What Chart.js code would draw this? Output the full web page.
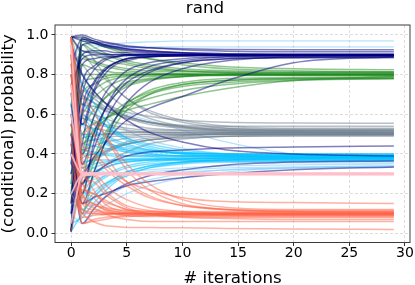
<!DOCTYPE html>
<html>
<head>
<meta charset="utf-8">
<script src="https://cdn.jsdelivr.net/npm/chart.js@4.4.1/dist/chart.umd.min.js"></script>
<style>
  html, body { margin: 0; padding: 0; background: #fff; }
  #wrap { width: 415px; height: 285px; }
</style>
</head>
<body>
<div id="wrap"><canvas id="chart"></canvas></div>
<script>
var iters = [0, 1, 2, 3, 4, 5, 7, 10, 14, 20, 29];

var xTicks = [0, 5, 10, 15, 20, 25, 30];
var yTicks = [0.0, 0.2, 0.4, 0.6, 0.8, 1.0];

// runs that settle near 0.9
var navyRuns = [
    [0.01, 0.45, 0.70, 0.80, 0.85, 0.87, 0.89, 0.895, 0.90, 0.90, 0.90],
    [0.35, 0.98, 0.97, 0.95, 0.94, 0.93, 0.92, 0.91, 0.905, 0.90, 0.90],
    [0.60, 0.20, 0.45, 0.62, 0.72, 0.78, 0.84, 0.87, 0.89, 0.895, 0.90],
    [0.10, 0.85, 0.88, 0.89, 0.89, 0.90, 0.90, 0.90, 0.90, 0.90, 0.90],
    [0.99, 0.99, 0.97, 0.96, 0.95, 0.94, 0.935, 0.93, 0.927, 0.925, 0.925],
    [0.50, 0.30, 0.38, 0.45, 0.52, 0.57, 0.63, 0.69, 0.77, 0.86, 0.89],
    [0.30, 0.70, 0.82, 0.87, 0.89, 0.90, 0.90, 0.90, 0.90, 0.90, 0.90],
    [0.80, 0.55, 0.72, 0.82, 0.86, 0.88, 0.89, 0.90, 0.90, 0.90, 0.90],
    [0.01, 0.95, 0.96, 0.95, 0.94, 0.93, 0.92, 0.91, 0.90, 0.90, 0.90],
    [0.45, 0.15, 0.30, 0.45, 0.58, 0.66, 0.76, 0.83, 0.87, 0.89, 0.895],
    [0.70, 0.90, 0.92, 0.92, 0.91, 0.91, 0.905, 0.90, 0.90, 0.90, 0.90],
    [0.20, 0.60, 0.75, 0.82, 0.86, 0.88, 0.89, 0.895, 0.90, 0.90, 0.90],
    [0.65, 0.35, 0.50, 0.62, 0.70, 0.76, 0.82, 0.86, 0.88, 0.885, 0.89],
    [0.99, 0.97, 0.96, 0.94, 0.93, 0.92, 0.91, 0.905, 0.90, 0.90, 0.90],
    [0.99, 0.92, 0.91, 0.905, 0.90, 0.90, 0.895, 0.895, 0.895, 0.895, 0.895],
    [0.15, 0.75, 0.84, 0.88, 0.89, 0.895, 0.90, 0.90, 0.90, 0.90, 0.90],
    [0.55, 0.40, 0.58, 0.70, 0.77, 0.82, 0.86, 0.88, 0.89, 0.89, 0.89],
    [0.85, 0.98, 0.96, 0.945, 0.935, 0.925, 0.915, 0.91, 0.905, 0.905, 0.905],
    [0.01, 0.62, 0.76, 0.83, 0.86, 0.88, 0.89, 0.895, 0.897, 0.897, 0.897],
    [0.35, 0.25, 0.42, 0.56, 0.66, 0.73, 0.81, 0.86, 0.88, 0.885, 0.885],
    [0.75, 0.88, 0.90, 0.90, 0.90, 0.90, 0.90, 0.90, 0.90, 0.90, 0.90],
    [0.99, 1.00, 0.98, 0.965, 0.955, 0.945, 0.935, 0.925, 0.918, 0.915, 0.915],
    [0.10, 0.25, 0.30, 0.34, 0.37, 0.39, 0.41, 0.42, 0.43, 0.435, 0.44],
    [0.50, 0.15, 0.18, 0.20, 0.22, 0.24, 0.26, 0.28, 0.30, 0.32, 0.335],
    [0.95, 0.80, 0.72, 0.66, 0.61, 0.57, 0.51, 0.46, 0.42, 0.40, 0.39],
    [0.40, 0.05, 0.12, 0.18, 0.22, 0.25, 0.29, 0.32, 0.345, 0.36, 0.365]
];

// runs that settle near 0.8
var greenRuns = [
    [0.90, 0.30, 0.50, 0.62, 0.70, 0.74, 0.77, 0.79, 0.80, 0.80, 0.80],
    [0.20, 0.95, 0.92, 0.90, 0.88, 0.86, 0.84, 0.82, 0.81, 0.80, 0.80],
    [0.55, 0.10, 0.30, 0.45, 0.55, 0.62, 0.70, 0.75, 0.77, 0.78, 0.785],
    [0.40, 0.75, 0.78, 0.79, 0.80, 0.80, 0.80, 0.80, 0.80, 0.80, 0.80],
    [0.99, 0.98, 0.96, 0.94, 0.92, 0.90, 0.88, 0.86, 0.84, 0.83, 0.825],
    [0.30, 0.50, 0.55, 0.58, 0.60, 0.62, 0.65, 0.69, 0.73, 0.77, 0.79],
    [0.70, 0.85, 0.83, 0.82, 0.81, 0.81, 0.80, 0.80, 0.80, 0.80, 0.80],
    [0.01, 0.40, 0.58, 0.68, 0.73, 0.76, 0.78, 0.79, 0.80, 0.80, 0.80],
    [0.65, 0.92, 0.90, 0.88, 0.86, 0.85, 0.83, 0.82, 0.815, 0.81, 0.81],
    [0.45, 0.25, 0.38, 0.50, 0.58, 0.64, 0.70, 0.74, 0.76, 0.775, 0.78],
    [0.85, 0.65, 0.72, 0.76, 0.78, 0.79, 0.80, 0.80, 0.80, 0.80, 0.80],
    [0.15, 0.99, 0.97, 0.95, 0.93, 0.91, 0.88, 0.85, 0.83, 0.82, 0.815],
    [0.60, 0.45, 0.52, 0.57, 0.61, 0.64, 0.68, 0.72, 0.75, 0.77, 0.78],
    [0.25, 0.88, 0.86, 0.84, 0.83, 0.82, 0.81, 0.805, 0.80, 0.80, 0.80],
    [0.50, 0.60, 0.68, 0.73, 0.76, 0.78, 0.79, 0.795, 0.80, 0.80, 0.80],
    [0.99, 0.90, 0.87, 0.85, 0.84, 0.83, 0.82, 0.815, 0.81, 0.81, 0.81],
    [0.10, 0.20, 0.35, 0.48, 0.58, 0.65, 0.72, 0.76, 0.78, 0.785, 0.79],
    [0.35, 0.70, 0.75, 0.78, 0.79, 0.795, 0.80, 0.80, 0.80, 0.80, 0.80],
    [0.75, 0.40, 0.50, 0.57, 0.62, 0.66, 0.71, 0.75, 0.77, 0.78, 0.78],
    [0.01, 0.97, 0.94, 0.91, 0.89, 0.87, 0.85, 0.83, 0.82, 0.815, 0.815],
    [0.60, 0.55, 0.62, 0.68, 0.72, 0.75, 0.775, 0.79, 0.795, 0.795, 0.795],
    [0.90, 0.80, 0.80, 0.80, 0.80, 0.80, 0.80, 0.80, 0.80, 0.80, 0.80]
];

// runs that settle near 0.5
var grayRuns = [
    [0.80, 0.70, 0.66, 0.62, 0.60, 0.58, 0.55, 0.53, 0.515, 0.51, 0.505],
    [0.20, 0.30, 0.36, 0.40, 0.43, 0.45, 0.47, 0.49, 0.50, 0.50, 0.50],
    [0.95, 0.75, 0.70, 0.66, 0.63, 0.61, 0.59, 0.57, 0.56, 0.556, 0.555],
    [0.40, 0.55, 0.53, 0.52, 0.51, 0.51, 0.51, 0.51, 0.51, 0.51, 0.51],
    [0.05, 0.62, 0.60, 0.58, 0.56, 0.55, 0.53, 0.52, 0.51, 0.505, 0.50],
    [0.60, 0.42, 0.44, 0.46, 0.47, 0.48, 0.49, 0.495, 0.50, 0.50, 0.50],
    [0.90, 0.85, 0.78, 0.72, 0.67, 0.63, 0.58, 0.54, 0.52, 0.515, 0.515],
    [0.30, 0.38, 0.40, 0.42, 0.44, 0.45, 0.47, 0.48, 0.49, 0.495, 0.495],
    [0.70, 0.60, 0.57, 0.55, 0.54, 0.53, 0.52, 0.52, 0.52, 0.52, 0.52],
    [0.50, 0.68, 0.66, 0.63, 0.61, 0.59, 0.56, 0.54, 0.53, 0.525, 0.525],
    [0.15, 0.45, 0.47, 0.48, 0.49, 0.49, 0.50, 0.50, 0.50, 0.50, 0.50],
    [0.85, 0.90, 0.84, 0.78, 0.73, 0.68, 0.62, 0.57, 0.54, 0.53, 0.53],
    [0.99, 0.65, 0.64, 0.62, 0.60, 0.58, 0.56, 0.545, 0.54, 0.54, 0.54],
    [0.35, 0.33, 0.37, 0.41, 0.44, 0.46, 0.48, 0.495, 0.505, 0.51, 0.51],
    [0.55, 0.50, 0.50, 0.50, 0.50, 0.50, 0.50, 0.50, 0.50, 0.50, 0.50],
    [0.99, 0.80, 0.72, 0.66, 0.62, 0.59, 0.56, 0.535, 0.525, 0.52, 0.52],
    [0.10, 0.20, 0.28, 0.34, 0.38, 0.41, 0.45, 0.475, 0.49, 0.495, 0.495],
    [0.65, 0.72, 0.68, 0.64, 0.61, 0.59, 0.56, 0.535, 0.52, 0.515, 0.51],
    [0.25, 0.58, 0.56, 0.54, 0.53, 0.52, 0.51, 0.505, 0.505, 0.505, 0.505],
    [0.80, 0.35, 0.38, 0.41, 0.43, 0.45, 0.47, 0.485, 0.49, 0.49, 0.49],
    [0.45, 0.95, 0.88, 0.80, 0.73, 0.68, 0.61, 0.56, 0.53, 0.52, 0.52],
    [0.01, 0.48, 0.49, 0.50, 0.505, 0.51, 0.51, 0.51, 0.51, 0.51, 0.51]
];

// runs that settle near 0.38
var skyRuns = [
    [0.70, 0.30, 0.33, 0.35, 0.36, 0.37, 0.375, 0.38, 0.38, 0.38, 0.38],
    [0.10, 0.55, 0.52, 0.49, 0.46, 0.44, 0.42, 0.40, 0.39, 0.385, 0.385],
    [0.90, 0.20, 0.25, 0.29, 0.32, 0.34, 0.36, 0.37, 0.375, 0.378, 0.38],
    [0.35, 0.42, 0.41, 0.40, 0.40, 0.39, 0.39, 0.39, 0.39, 0.39, 0.39],
    [0.55, 0.65, 0.60, 0.55, 0.51, 0.48, 0.45, 0.42, 0.40, 0.395, 0.395],
    [0.20, 0.12, 0.18, 0.23, 0.27, 0.30, 0.33, 0.35, 0.36, 0.365, 0.37],
    [0.60, 0.36, 0.37, 0.37, 0.37, 0.37, 0.37, 0.37, 0.37, 0.37, 0.37],
    [0.80, 0.50, 0.47, 0.45, 0.43, 0.42, 0.41, 0.405, 0.40, 0.40, 0.40],
    [0.01, 0.28, 0.31, 0.33, 0.35, 0.36, 0.37, 0.375, 0.38, 0.38, 0.38],
    [0.45, 0.58, 0.52, 0.47, 0.44, 0.42, 0.40, 0.39, 0.385, 0.383, 0.383],
    [0.95, 0.15, 0.20, 0.25, 0.28, 0.31, 0.34, 0.36, 0.37, 0.375, 0.375],
    [0.25, 0.45, 0.44, 0.43, 0.42, 0.41, 0.40, 0.39, 0.39, 0.39, 0.39],
    [0.75, 0.70, 0.62, 0.55, 0.50, 0.47, 0.43, 0.40, 0.39, 0.385, 0.385],
    [0.05, 0.08, 0.15, 0.21, 0.26, 0.29, 0.33, 0.355, 0.37, 0.375, 0.375],
    [0.65, 0.25, 0.30, 0.33, 0.35, 0.36, 0.37, 0.375, 0.38, 0.38, 0.38],
    [0.99, 0.40, 0.40, 0.395, 0.39, 0.39, 0.39, 0.39, 0.39, 0.39, 0.39],
    [0.30, 0.60, 0.55, 0.50, 0.47, 0.45, 0.42, 0.405, 0.40, 0.40, 0.40],
    [0.15, 0.18, 0.24, 0.28, 0.31, 0.33, 0.35, 0.36, 0.365, 0.365, 0.365],
    [0.85, 0.75, 0.66, 0.58, 0.52, 0.48, 0.44, 0.41, 0.395, 0.39, 0.39],
    [0.50, 0.33, 0.35, 0.36, 0.37, 0.375, 0.38, 0.38, 0.38, 0.38, 0.38],
    [0.01, 0.10, 0.18, 0.24, 0.28, 0.31, 0.34, 0.36, 0.37, 0.372, 0.372],
    [0.40, 0.50, 0.48, 0.46, 0.44, 0.43, 0.415, 0.405, 0.40, 0.398, 0.398]
];

// pale runs that wander to other values
var lightRuns = [
    [0.70, 0.90, 0.93, 0.95, 0.955, 0.96, 0.965, 0.97, 0.97, 0.97, 0.97],
    [0.30, 0.10, 0.14, 0.18, 0.21, 0.24, 0.27, 0.30, 0.32, 0.33, 0.335],
    [0.60, 0.65, 0.64, 0.63, 0.62, 0.60, 0.57, 0.52, 0.46, 0.40, 0.38],
    [0.15, 0.25, 0.27, 0.29, 0.30, 0.31, 0.32, 0.33, 0.34, 0.345, 0.35],
    [0.85, 0.95, 0.95, 0.94, 0.94, 0.94, 0.94, 0.94, 0.94, 0.94, 0.94],
    [0.40, 0.20, 0.22, 0.25, 0.27, 0.29, 0.31, 0.32, 0.33, 0.335, 0.34],
    [0.50, 0.80, 0.70, 0.62, 0.56, 0.52, 0.47, 0.43, 0.40, 0.39, 0.385],
    [0.10, 0.05, 0.10, 0.14, 0.17, 0.20, 0.24, 0.28, 0.31, 0.33, 0.34],
    [0.99, 0.55, 0.50, 0.46, 0.43, 0.41, 0.39, 0.37, 0.36, 0.355, 0.355],
    [0.20, 0.35, 0.33, 0.31, 0.30, 0.30, 0.30, 0.31, 0.32, 0.33, 0.335]
];

// runs that jump to 0.3 and stay
var pinkRuns = [
    [0.95, 0.30, 0.30, 0.30, 0.30, 0.30, 0.30, 0.30, 0.30, 0.30, 0.30],
    [0.05, 0.29, 0.295, 0.297, 0.298, 0.298, 0.298, 0.298, 0.298, 0.298, 0.298],
    [0.60, 0.31, 0.305, 0.303, 0.302, 0.302, 0.302, 0.302, 0.302, 0.302, 0.302],
    [0.40, 0.30, 0.30, 0.30, 0.30, 0.30, 0.30, 0.30, 0.30, 0.30, 0.30],
    [0.75, 0.305, 0.304, 0.304, 0.304, 0.304, 0.304, 0.304, 0.304, 0.304, 0.304],
    [0.20, 0.295, 0.296, 0.296, 0.296, 0.296, 0.296, 0.296, 0.296, 0.296, 0.296]
];

// runs that settle near 0.1
var tomatoRuns = [
    [0.95, 0.15, 0.12, 0.11, 0.10, 0.10, 0.10, 0.10, 0.10, 0.10, 0.10],
    [0.90, 0.40, 0.38, 0.33, 0.28, 0.24, 0.18, 0.14, 0.12, 0.11, 0.105],
    [0.50, 0.05, 0.06, 0.07, 0.08, 0.085, 0.09, 0.095, 0.095, 0.095, 0.095],
    [0.98, 0.60, 0.50, 0.40, 0.32, 0.26, 0.19, 0.14, 0.12, 0.115, 0.115],
    [0.20, 0.10, 0.06, 0.04, 0.035, 0.03, 0.03, 0.028, 0.025, 0.022, 0.02],
    [0.75, 0.25, 0.20, 0.16, 0.14, 0.12, 0.11, 0.10, 0.10, 0.10, 0.10],
    [0.40, 0.08, 0.09, 0.095, 0.10, 0.10, 0.10, 0.10, 0.10, 0.10, 0.10],
    [0.85, 0.30, 0.26, 0.20, 0.16, 0.13, 0.10, 0.085, 0.08, 0.08, 0.08],
    [0.60, 0.18, 0.13, 0.10, 0.08, 0.07, 0.06, 0.06, 0.06, 0.06, 0.06],
    [0.99, 0.50, 0.55, 0.50, 0.42, 0.35, 0.25, 0.17, 0.13, 0.12, 0.12],
    [0.30, 0.12, 0.11, 0.105, 0.10, 0.10, 0.10, 0.10, 0.10, 0.10, 0.10],
    [0.70, 0.35, 0.22, 0.15, 0.12, 0.11, 0.10, 0.095, 0.09, 0.09, 0.09],
    [0.92, 0.20, 0.15, 0.12, 0.11, 0.105, 0.10, 0.10, 0.10, 0.10, 0.10],
    [0.01, 0.22, 0.20, 0.17, 0.14, 0.12, 0.095, 0.08, 0.075, 0.07, 0.07],
    [0.80, 0.45, 0.40, 0.35, 0.30, 0.26, 0.22, 0.18, 0.16, 0.155, 0.15],
    [0.99, 0.28, 0.18, 0.13, 0.11, 0.10, 0.095, 0.095, 0.095, 0.095, 0.095],
    [0.99, 0.10, 0.10, 0.10, 0.10, 0.10, 0.10, 0.10, 0.10, 0.10, 0.10],
    [0.55, 0.30, 0.30, 0.25, 0.20, 0.17, 0.13, 0.11, 0.105, 0.105, 0.105],
    [0.90, 0.05, 0.07, 0.08, 0.085, 0.09, 0.09, 0.09, 0.09, 0.09, 0.09],
    [0.15, 0.15, 0.14, 0.13, 0.12, 0.115, 0.11, 0.11, 0.11, 0.11, 0.11],
    [0.97, 0.70, 0.62, 0.50, 0.40, 0.32, 0.22, 0.15, 0.12, 0.11, 0.11],
    [0.45, 0.20, 0.15, 0.12, 0.10, 0.09, 0.085, 0.085, 0.085, 0.085, 0.085],
    [0.80, 0.12, 0.10, 0.095, 0.095, 0.095, 0.095, 0.095, 0.095, 0.095, 0.095],
    [0.99, 0.38, 0.30, 0.22, 0.17, 0.14, 0.115, 0.105, 0.10, 0.10, 0.10]
];

var groups = [
    {runs: lightRuns, color: 'rgba(135, 206, 250, 0.6)', width: 1.3},
    {runs: grayRuns, color: 'rgba(112, 128, 144, 0.5)', width: 1.5},
    {runs: greenRuns, color: 'rgba(34, 139, 34, 0.5)', width: 1.5},
    {runs: skyRuns, color: 'rgba(0, 191, 255, 0.5)', width: 1.5},
    {runs: navyRuns, color: 'rgba(0, 0, 128, 0.5)', width: 1.5},
    {runs: tomatoRuns, color: 'rgba(255, 99, 71, 0.5)', width: 1.5},
    {runs: pinkRuns, color: 'rgba(255, 192, 203, 0.85)', width: 1.8}
];

// chart.js paints dataset 0 last, so build bottom-up then flip
var datasets = [];
groups.forEach(function(g) {
    g.runs.forEach(function(run) {
        datasets.push({
            data: run.map(function(v, i) { return {x: iters[i], y: v}; }),
            borderColor: g.color,
            borderWidth: g.width,
            pointRadius: 0,
            fill: false,
            cubicInterpolationMode: 'monotone'
        });
    });
});
datasets.reverse();

var frame = {
    id: 'frame',
    afterDatasetsDraw: function(chart) {
        var a = chart.chartArea;
        var ctx = chart.ctx;
        ctx.save();
        ctx.strokeStyle = '#3c3c3c';
        ctx.lineWidth = 1;
        ctx.strokeRect(a.left, a.top, a.right - a.left, a.bottom - a.top);
        ctx.restore();
    }
};

var font = 'DejaVu Sans';

new Chart(document.getElementById('chart').getContext('2d'), {
    type: 'line',
    data: {datasets: datasets},
    plugins: [frame],
    options: {
        responsive: true,
        maintainAspectRatio: false,
        animation: false,
        devicePixelRatio: 1,
        layout: {padding: {left: 0, right: 5, top: 0, bottom: 0}},
        plugins: {
            legend: {display: false},
            tooltip: {enabled: false},
            title: {
                display: true,
                text: 'rand',
                color: '#000',
                font: {family: font, size: 16.7, weight: 'normal', lineHeight: 1.06},
                padding: {top: 0, bottom: 7.3}
            }
        },
        scales: {
            x: {
                type: 'linear',
                min: -1.45,
                max: 30.45,
                afterBuildTicks: function(scale) {
                    scale.ticks = xTicks.map(function(v) { return {value: v}; });
                },
                afterFit: function(scale) {
                    scale.height = 42.5;
                    scale.paddingLeft = 0;
                    scale.paddingRight = 0;
                },
                ticks: {
                    color: '#000',
                    font: {family: font, size: 14},
                    padding: -1,
                    maxRotation: 0,
                    callback: function(v) { return v; }
                },
                grid: {
                    color: 'rgba(170, 170, 170, 0.4)',
                    tickColor: '#333',
                    tickLength: 3.5,
                    tickBorderDash: [],
                    tickWidth: 1
                },
                border: {display: false, dash: [3, 2]},
                title: {
                    display: true,
                    text: '# iterations',
                    color: '#000',
                    font: {family: font, size: 16.7, lineHeight: 0.8},
                    padding: {top: 0, bottom: 0}
                }
            },
            y: {
                min: -0.046,
                max: 1.05,
                afterBuildTicks: function(scale) {
                    scale.ticks = yTicks.map(function(v) { return {value: v}; });
                },
                afterFit: function(scale) {
                    scale.width = 55;
                    scale.paddingTop = 0;
                    scale.paddingBottom = 0;
                },
                ticks: {
                    color: '#000',
                    font: {family: font, size: 14},
                    padding: 3,
                    callback: function(v) { return v.toFixed(1); }
                },
                grid: {
                    color: 'rgba(170, 170, 170, 0.4)',
                    tickColor: '#333',
                    tickLength: 3.5,
                    tickBorderDash: [],
                    tickWidth: 1
                },
                border: {display: false, dash: [3, 2]},
                title: {
                    display: true,
                    text: '(conditional) probability',
                    color: '#000',
                    font: {family: font, size: 16.7, lineHeight: 1.0},
                    padding: {top: 0, bottom: 0}
                }
            }
        }
    }
});
</script>
</body>
</html>
